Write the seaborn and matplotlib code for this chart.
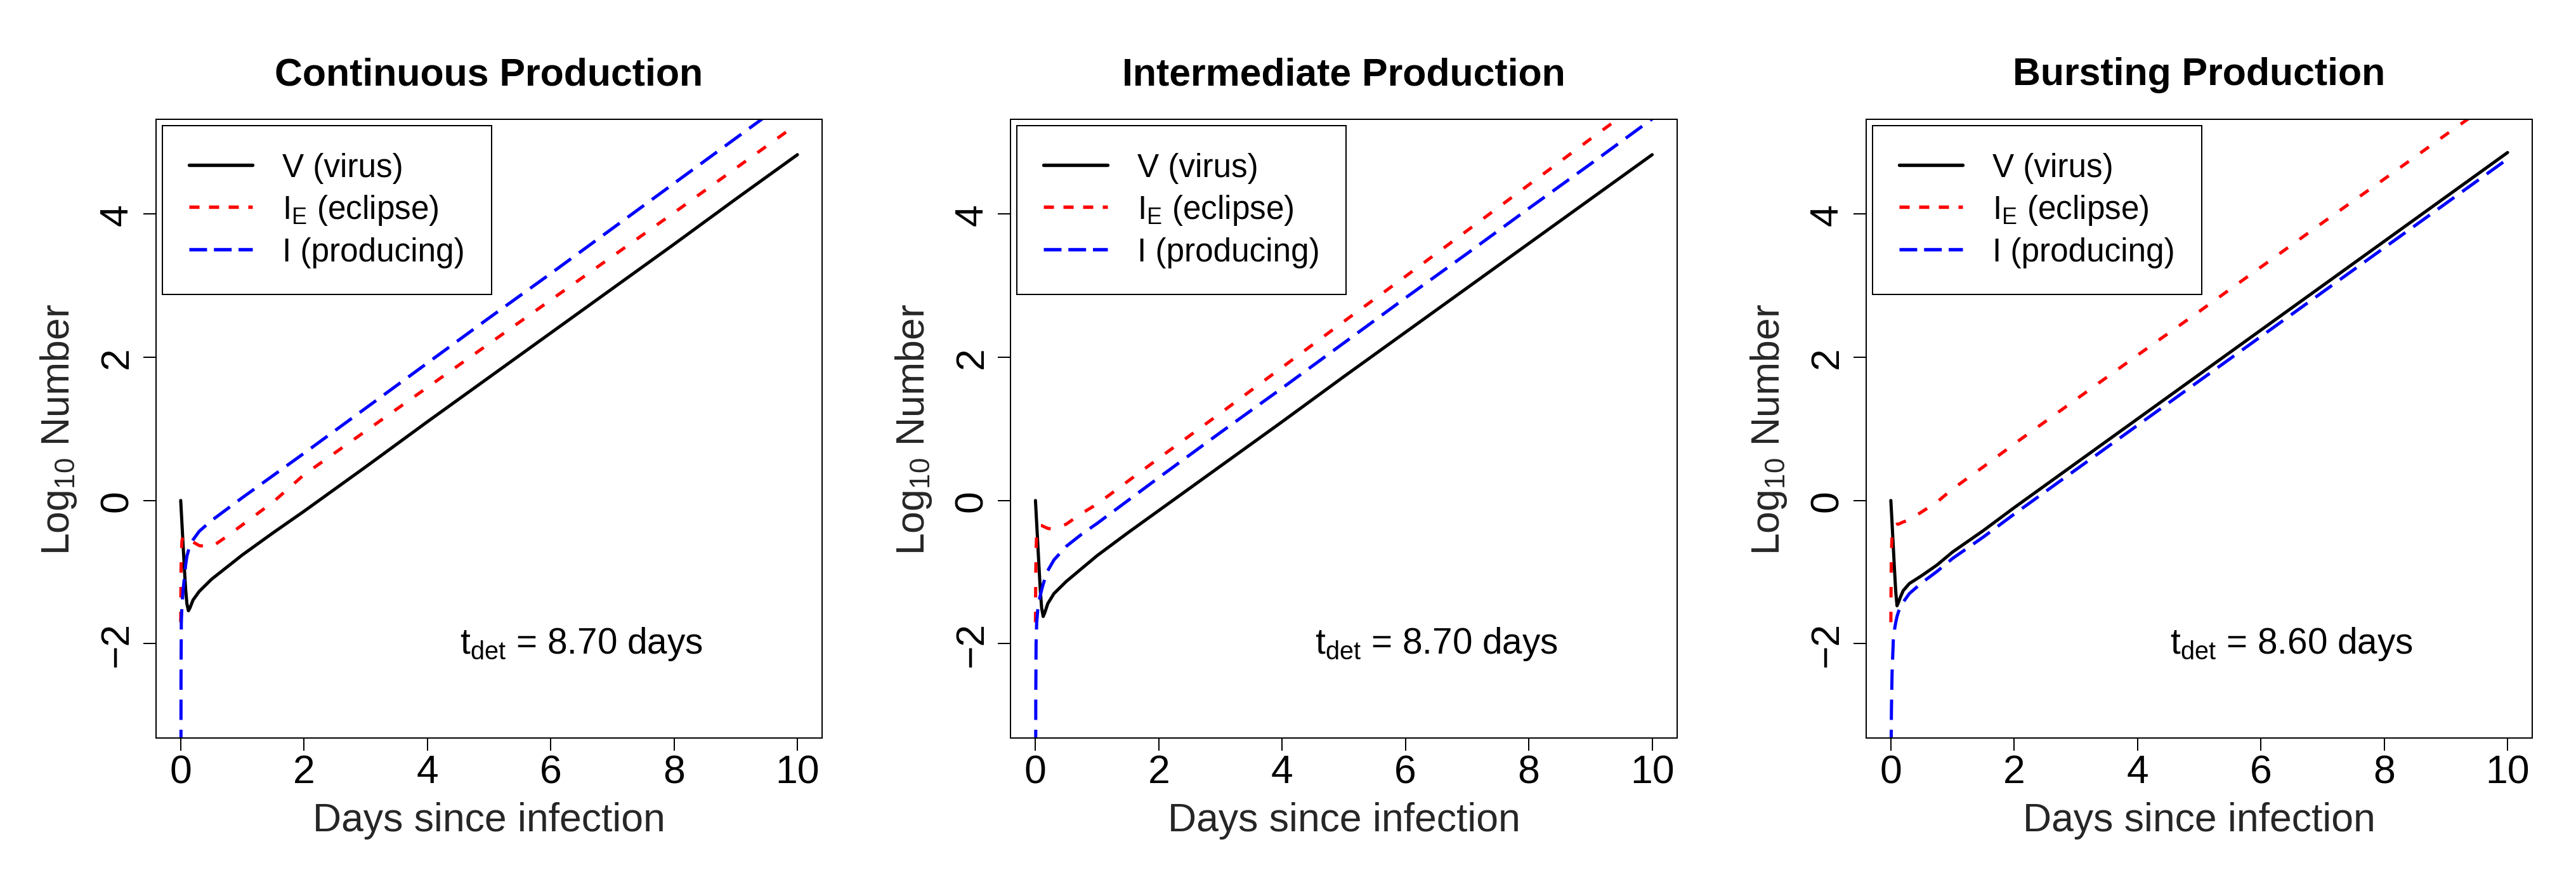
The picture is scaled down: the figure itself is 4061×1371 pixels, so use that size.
import numpy as np
import pandas as pd
import matplotlib
matplotlib.use("Agg")
import matplotlib.pyplot as plt
from matplotlib.lines import Line2D
import seaborn as sns

# time points (days since infection)
days = [0, 0.005, 0.01, 0.02, 0.04, 0.06, 0.08, 0.1, 0.125, 0.15, 0.2, 0.3,
        0.5, 0.75, 1, 1.5, 2, 3, 4, 5, 6, 7, 8, 9, 10]

# log10 numbers
cont_virus = [0, -0.08, -0.16, -0.32, -0.64, -0.96, -1.24, -1.44, -1.54, -1.50, -1.39, -1.27,
              -1.10, -0.93, -0.76, -0.45, -0.15, 0.47, 1.10, 1.72, 2.34, 2.96, 3.58, 4.21, 4.83]
cont_eclipse = [-1.70, -1.00, -0.75, -0.56, -0.50, -0.49, -0.49, -0.50, -0.52, -0.54, -0.58, -0.63,
                -0.65, -0.50, -0.34, -0.02, 0.36, 0.97, 1.58, 2.19, 2.80, 3.41, 4.02, 4.64, 5.26]
cont_producing = [-8, -2.5, -1.7, -1.45, -1.24, -1.08, -0.90, -0.78, -0.70, -0.63, -0.55, -0.43,
                  -0.28, -0.12, 0.04, 0.35, 0.66, 1.29, 1.92, 2.55, 3.17, 3.80, 4.43, 5.06, 5.69]

inter_virus = [0, -0.08, -0.16, -0.32, -0.64, -0.97, -1.27, -1.50, -1.62, -1.57, -1.44, -1.30,
               -1.13, -0.95, -0.77, -0.45, -0.14, 0.48, 1.10, 1.73, 2.35, 2.97, 3.59, 4.21, 4.83]
inter_eclipse = [-1.70, -1.00, -0.70, -0.45, -0.37, -0.35, -0.35, -0.35, -0.36, -0.37, -0.39, -0.40,
                 -0.33, -0.18, -0.05, 0.27, 0.59, 1.22, 1.86, 2.50, 3.13, 3.77, 4.41, 5.05, 5.68]
inter_producing = [-8, -2.8, -2.0, -1.7, -1.50, -1.40, -1.32, -1.25, -1.17, -1.10, -0.98, -0.83,
                   -0.64, -0.47, -0.32, 0.00, 0.32, 0.95, 1.57, 2.20, 2.83, 3.45, 4.08, 4.70, 5.33]

burst_virus = [0, -0.08, -0.16, -0.32, -0.65, -0.98, -1.28, -1.47, -1.42, -1.36, -1.26, -1.16,
               -1.05, -0.90, -0.72, -0.42, -0.10, 0.52, 1.14, 1.76, 2.38, 3.00, 3.62, 4.24, 4.86]
burst_eclipse = [-1.70, -1.00, -0.70, -0.48, -0.38, -0.35, -0.34, -0.33, -0.33, -0.32, -0.30, -0.27,
                 -0.16, -0.02, 0.16, 0.47, 0.79, 1.41, 2.03, 2.64, 3.26, 3.88, 4.49, 5.11, 5.72]
burst_producing = [-8, -3.4, -2.9, -2.4, -1.95, -1.80, -1.70, -1.62, -1.55, -1.50, -1.42, -1.30,
                   -1.15, -0.99, -0.81, -0.51, -0.19, 0.43, 1.05, 1.67, 2.29, 2.91, 3.53, 4.15, 4.77]

titles = ["Continuous Production", "Intermediate Production", "Bursting Production"]
t_det = ["8.70", "8.70", "8.60"]
panels = [
    (cont_virus, cont_eclipse, cont_producing),
    (inter_virus, inter_eclipse, inter_producing),
    (burst_virus, burst_eclipse, burst_producing),
]
series_labels = ["V (virus)", r"I$_{\mathrm{E}}$ (eclipse)", "I (producing)"]
x_ticks = [0, 2, 4, 6, 8, 10]
y_ticks = [-2, 0, 2, 4]

sns.set_style("ticks", {"axes.edgecolor": "black", "xtick.color": "black",
                        "ytick.color": "black", "text.color": "black"})
plt.rcParams["font.family"] = ["Liberation Sans", "DejaVu Sans"]
plt.rcParams["mathtext.fontset"] = "custom"
plt.rcParams["mathtext.rm"] = "Liberation Sans"
plt.rcParams["mathtext.it"] = "Liberation Sans:italic"
plt.rcParams["mathtext.bf"] = "Liberation Sans:bold"
plt.rcParams["lines.scale_dashes"] = False

colors = ["black", "red", "blue"]
styles = ["-", (0, (3.96, 5.4)), (0, (7.7, 3.7))]
legend_styles = ["-", (0, (3.84, 3.6)), (0, (6.7, 2.6))]
lw = 1.2
frame_lw = 0.48

fig = plt.figure(figsize=(13.54, 4.5733), dpi=300)
lefts = [0.06056, 0.39229, 0.72427]

for i, (title, series) in enumerate(zip(titles, panels)):
    ax = fig.add_axes([lefts[i], 0.1514, 0.2585, 0.7105])
    df = pd.DataFrame({"days": days, "V": series[0], "IE": series[1], "I": series[2]})
    for col, c, ls in zip(["V", "IE", "I"], colors, styles):
        sns.lineplot(data=df, x="days", y=col, ax=ax, color=c, linestyle=ls,
                     linewidth=lw, legend=False)

    ax.set_xlim(-0.4, 10.4)
    ax.set_ylim(-3.32, 5.32)
    ax.set_xticks(x_ticks)
    ax.set_yticks(y_ticks)
    ax.tick_params(axis="both", length=4.7, width=frame_lw, labelsize=15)
    ax.tick_params(axis="x", pad=1)
    ax.tick_params(axis="y", pad=3, labelrotation=90)
    for t in ax.get_yticklabels():
        t.set_va("center")
    for s in ax.spines.values():
        s.set_linewidth(frame_lw)
        s.set_color("black")

    ax.set_xlabel("Days since infection", fontsize=15, labelpad=4.1)
    ax.set_ylabel(r"Log$_{\mathrm{10}}$ Number", fontsize=15, labelpad=7.4)
    ax.set_title(title, fontsize=14.6, fontweight="bold", pad=13.2)

    ax.text(6.5, -2, r"t$_{\mathrm{det}}$ = " + t_det[i] + " days",
            ha="center", va="center", fontsize=13.6)

    handles = [Line2D([], [], color=c, linestyle=ls, linewidth=1.3)
               for c, ls in zip(colors, legend_styles)]
    leg = ax.legend(handles=handles, labels=series_labels, loc="upper left",
                    bbox_to_anchor=(0.0095, 0.9903), borderaxespad=0,
                    fontsize=12.3, fancybox=False, framealpha=1,
                    edgecolor="black", borderpad=0.82, labelspacing=0.3,
                    handlelength=1.96, handletextpad=0.91)
    leg.get_frame().set_linewidth(frame_lw)

fig.savefig("out.png", dpi=300)
